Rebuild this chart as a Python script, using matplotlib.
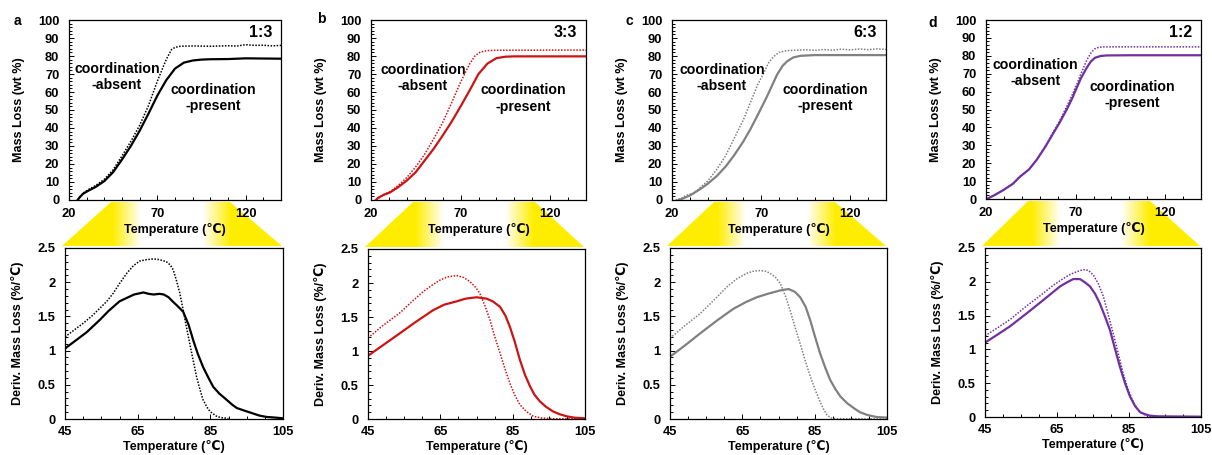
import numpy as np
import matplotlib
matplotlib.use('Agg')
import matplotlib.pyplot as plt
from matplotlib.patches import Polygon
from matplotlib.ticker import MultipleLocator, FuncFormatter

plt.rcParams['font.family'] = ['Liberation Sans', 'DejaVu Sans']
plt.rcParams['font.weight'] = 'bold'
plt.rcParams['axes.labelweight'] = 'bold'

W, H = 1212, 455

# ---------------- TGA mass loss (wt %) ----------------
a_tga_pres_T = [24.9, 26, 28, 31, 35, 40, 45, 50, 55, 60, 65, 70, 75, 80, 85, 90, 95, 100, 110, 120, 130, 140]
a_tga_pres = [0, 1.5, 3.5, 5.2, 7.2, 10.5, 15.5, 22.5, 30, 38.5, 48, 58, 66.5, 73, 76.3, 77.5, 78, 78.2, 78.3, 78.7, 78.6, 78.5]
a_tga_abs_T = [24.9, 28, 31, 35, 40, 45, 50, 55, 60, 65, 70, 75, 78, 80, 83, 90, 100, 110, 115, 120, 125, 130, 135, 140]
a_tga_abs = [0, 3.8, 5.8, 8, 11.5, 16.8, 24.5, 32.5, 41.5, 52.5, 66, 78, 83.5, 84.8, 85.4, 85.6, 85.4, 85.7, 85.5, 86.3, 85.9, 86.0, 85.6, 85.9]

b_tga_pres_T = [22.8, 24, 27, 30.6, 35, 40, 45, 50, 55, 60, 65, 70, 75, 80, 85, 90, 95, 100, 120, 140]
b_tga_pres = [0, 1.2, 2.8, 4.2, 7, 10.8, 15.5, 22, 28.5, 35.8, 43.5, 52, 60.8, 70, 75.8, 78.8, 79.6, 79.8, 79.8, 79.8]
b_tga_abs_T = [22.8, 27, 31, 36, 40, 45, 50, 55, 60, 65, 70, 75, 78, 81, 85, 90, 140]
b_tga_abs = [0, 3, 4.8, 8.8, 12.5, 18.5, 25.5, 34, 43, 54, 65.5, 75.5, 80, 82.2, 83, 83.2, 83.3]

c_tga_pres_T = [23.7, 26, 30, 35.9, 40, 45.2, 50, 54.6, 60, 63.9, 70, 73.3, 78.9, 82, 84.5, 88, 92, 100, 140]
c_tga_pres = [0, 0.8, 2.5, 6.1, 9, 13.4, 18.5, 24.5, 32.5, 39.2, 51, 57.6, 69.6, 74.5, 77, 79.2, 80.1, 80.5, 80.5]
c_tga_abs_T = [22, 25, 28, 30, 32, 35.9, 40, 45.2, 50, 54.6, 60, 63.9, 68, 71.4, 74, 77, 80, 84.5, 90,
               95, 100, 105, 110, 115, 120, 125, 130, 135, 140]
c_tga_abs = [0, 0.8, 2.6, 3.2, 3.5, 7, 10.5, 17.1, 24.5, 33.7, 44.5, 54, 64, 70.5, 76, 79.7, 82, 83, 83.2,
             83.5, 83.1, 83.6, 83.2, 83.8, 83.4, 83.9, 83.5, 84.0, 83.6]

d_tga_pres_T = [20.4, 25, 29.7, 35, 39, 44, 48.3, 53, 57.6, 61, 65, 68, 70.6, 73, 76.2, 78.5, 80.8, 84, 87.3, 100, 140]
d_tga_pres = [0, 2.3, 5, 8.5, 12.5, 16.5, 21.9, 29, 36.8, 42.5, 49.9, 56, 62, 67.5, 73.3, 76.8, 78.9, 79.9, 80.2, 80.3, 80.3]
d_tga_abs_T = [20.4, 25, 29.7, 35, 39, 44, 48.3, 53, 57.6, 61, 65, 68, 70.6, 73, 76.2, 78.5, 80.5, 83, 86, 140]
d_tga_abs = [0, 2.3, 5, 8.5, 12.5, 16.5, 22, 29.3, 37.5, 43.5, 51.5, 58, 63.9, 70, 77.5, 81.5, 83.8, 84.8, 85, 85]

# ---------------- DTG, derivative mass loss (%/°C) ----------------
a_dtg_pres_T = [45, 48, 51, 54.6, 57, 60, 62, 64, 66.6, 68, 69.4, 71, 72.2, 73.5, 74.8, 76, 77.5, 79, 80.3,
                81.5, 83, 84.5, 85.8, 87.5, 89.5, 91, 92.3, 94.5, 96.8, 98.5, 100.5, 103, 105]
a_dtg_pres = [1.03, 1.15, 1.27, 1.45, 1.58, 1.72, 1.77, 1.82, 1.85, 1.83, 1.82, 1.83, 1.82, 1.78, 1.71, 1.65,
              1.57, 1.38, 1.15, 0.96, 0.76, 0.6, 0.47, 0.37, 0.28, 0.21, 0.16, 0.12, 0.08, 0.05, 0.03, 0.02, 0.01]
a_dtg_abs_T = [45, 47.5, 50, 52.5, 54.6, 56.5, 58.3, 60, 62, 63.8, 65.6, 67.5, 69.4, 71, 72.9, 74, 74.8, 75.7,
               76.6, 77.5, 78.4, 79.8, 81.2, 82.2, 83, 84, 84.9, 86.7, 88, 89.5, 90]
a_dtg_abs = [1.2, 1.3, 1.4, 1.51, 1.62, 1.72, 1.84, 1.98, 2.13, 2.24, 2.31, 2.33, 2.34, 2.33, 2.3, 2.25, 2.18,
             2.02, 1.84, 1.6, 1.35, 0.98, 0.62, 0.42, 0.28, 0.18, 0.11, 0.04, 0.02, 0.01, 0.005]

b_dtg_pres_T = [45, 49, 53.8, 58, 63, 66, 69.5, 72, 75, 77.8, 79.5, 81.5, 83, 84.2, 85.5, 87, 88.4, 89.8, 91,
                92.5, 94.2, 96.2, 98, 99.9, 102, 105]
b_dtg_pres = [0.93, 1.08, 1.26, 1.42, 1.6, 1.68, 1.73, 1.77, 1.79, 1.77, 1.73, 1.65, 1.52, 1.36, 1.15, 0.87,
              0.65, 0.48, 0.36, 0.26, 0.18, 0.11, 0.07, 0.04, 0.02, 0.01]
b_dtg_abs_T = [45, 49, 53.8, 57, 60.2, 62.5, 64.8, 67, 69.5, 71.5, 73.2, 74.7, 75.9, 77.3, 78.7, 80, 81.5,
               82.8, 84.2, 85.5, 87, 88.8, 90.7, 93, 96, 105]
b_dtg_abs = [1.19, 1.37, 1.56, 1.72, 1.87, 1.96, 2.04, 2.09, 2.11, 2.08, 2.02, 1.94, 1.85, 1.67, 1.46, 1.22,
             0.97, 0.75, 0.53, 0.36, 0.21, 0.11, 0.04, 0.015, 0.005, 0]

c_dtg_pres_T = [45, 49, 53.3, 58, 62.5, 66, 69, 72, 75.5, 77.8, 79.5, 81, 82.5, 83.8, 85, 86.5, 88, 89.3, 90.7,
                92.1, 94, 95.8, 97.5, 99.5, 102, 105]
c_dtg_pres = [0.91, 1.07, 1.25, 1.44, 1.61, 1.71, 1.78, 1.83, 1.88, 1.9, 1.86, 1.78, 1.64, 1.44, 1.22, 0.96,
              0.74, 0.57, 0.44, 0.33, 0.23, 0.16, 0.1, 0.06, 0.03, 0.02]
c_dtg_abs_T = [45, 49, 53.3, 57, 60.7, 63.5, 66.2, 68, 69.9, 71.5, 72.7, 74.2, 75.5, 76.9, 78.2, 79.6, 81,
               82.4, 83.8, 85.2, 86.5, 87.5, 88.4, 89.5, 91, 105]
c_dtg_abs = [1.18, 1.36, 1.54, 1.73, 1.93, 2.05, 2.13, 2.16, 2.17, 2.16, 2.13, 2.07, 1.98, 1.8, 1.59, 1.34,
             1.1, 0.85, 0.62, 0.42, 0.25, 0.14, 0.06, 0.015, 0.005, 0]

d_dtg_pres_T = [45, 48.5, 51.9, 56.5, 61.2, 63.5, 65.8, 67.7, 69.5, 71.4, 72.8, 74.2, 75.6, 76.9, 78.3, 79.7,
                81.1, 82.5, 83.9, 85.3, 86.7, 88.1, 89.5, 90.8, 93, 105]
d_dtg_pres = [1.1, 1.22, 1.34, 1.53, 1.73, 1.83, 1.93, 1.99, 2.04, 2.04, 1.99, 1.93, 1.82, 1.68, 1.49, 1.29,
              1.01, 0.74, 0.5, 0.3, 0.16, 0.07, 0.04, 0.02, 0.01, 0.005]
d_dtg_abs_T = [45, 48.5, 51.9, 56.5, 61.2, 64, 66.8, 68.7, 70.5, 72.3, 73.7, 75.1, 76.5, 77.9, 79.2, 80.6,
               82, 83.4, 84.8, 86.2, 87.6, 89, 90.5, 93, 105]
d_dtg_abs = [1.2, 1.32, 1.44, 1.64, 1.83, 1.95, 2.05, 2.11, 2.15, 2.18, 2.17, 2.1, 1.97, 1.78, 1.52, 1.24,
             0.94, 0.64, 0.4, 0.22, 0.1, 0.04, 0.015, 0.005, 0]

letters = ['a', 'b', 'c', 'd']
ratios = ['1:3', '3:3', '6:3', '1:2']
colors = ['#000000', '#CC1414', '#808080', '#7030A0']
tga_xticks = [20, 70, 120]
dtg_xticks = [45, 65, 85, 105]

tga = [
    (a_tga_pres_T, a_tga_pres, a_tga_abs_T, a_tga_abs),
    (b_tga_pres_T, b_tga_pres, b_tga_abs_T, b_tga_abs),
    (c_tga_pres_T, c_tga_pres, c_tga_abs_T, c_tga_abs),
    (d_tga_pres_T, d_tga_pres, d_tga_abs_T, d_tga_abs),
]
dtg = [
    (a_dtg_pres_T, a_dtg_pres, a_dtg_abs_T, a_dtg_abs),
    (b_dtg_pres_T, b_dtg_pres, b_dtg_abs_T, b_dtg_abs),
    (c_dtg_pres_T, c_dtg_pres, c_dtg_abs_T, c_dtg_abs),
    (d_dtg_pres_T, d_dtg_pres, d_dtg_abs_T, d_dtg_abs),
]

# axes boxes in pixels: left, top, right, bottom
top_boxes = [(69, 20, 281, 200), (371, 20, 586, 200), (672, 20, 886, 200), (986, 20, 1201, 199)]
bot_boxes = [(65, 248, 283, 419), (368, 249, 585, 419), (670, 248, 887, 419), (985, 248, 1201, 417)]
letter_xy = [(17, 21), (321, 19), (629, 21), (933, 23)]
# label positions in data coords (x, y) for absent / present text
absent_xy = [(47.2, 68.3), (49, 68), (48, 68), (47.4, 70.2)]
present_xy = [(101.5, 56.7), (104.9, 56.4), (105.9, 56.5), (101.4, 58.3)]

fig = plt.figure(figsize=(W / 100, H / 100), dpi=100)


def px_axes(box, **kw):
    l, t, r, b = box
    return fig.add_axes([l / W, 1 - b / H, (r - l) / W, (b - t) / H], **kw)


fmt = FuncFormatter(lambda v, p: '%g' % v)

# yellow zoom trapezoids behind everything
bg = fig.add_axes([0, 0, 1, 1], zorder=-5)
bg.axis('off')
yellow = np.array([1.0, 0.93, 0.0])
for tb, bb in zip(top_boxes, bot_boxes):
    y0, y1 = tb[3] + 2, bb[1] - 2
    xl, xr = bb[0] - 3, bb[2] - 1
    poly = Polygon([(tb[0] + 42, y0), (tb[2] - 51, y0), (xr, y1), (xl, y1)],
                   closed=True, facecolor='none', edgecolor='none', transform=bg.transData)
    bg.add_patch(poly)
    xs = np.linspace(xl, xr, 400)
    cx, half = (xl + xr) / 2, (xr - xl) / 2
    a = np.clip((np.abs(xs - cx) / half - 0.28) / 0.26, 0, 1)
    img = (1 - a)[:, None] * np.ones(3) + a[:, None] * yellow
    im = bg.imshow(img[None, :, :], extent=(xl, xr, y1, y0), aspect='auto', interpolation='bilinear')
    im.set_clip_path(poly)
bg.set_xlim(0, W)
bg.set_ylim(H, 0)


def style(ax):
    for s in ax.spines.values():
        s.set_linewidth(0.9)
    ax.tick_params(which='both', direction='in', top=False, right=False, width=0.7)
    ax.tick_params(which='major', length=3.5, labelsize=9.3)
    ax.tick_params(which='minor', length=2)


for i in range(4):
    col = colors[i]
    # TGA panel
    ax = px_axes(top_boxes[i])
    tp, yp, ta, ya = tga[i]
    ax.plot(ta, ya, color=col, lw=1.1, ls=(0, (1, 1)))
    ax.plot(tp, yp, color=col, lw=1.6)
    ax.set_xlim(20, 140)
    ax.set_ylim(0, 100)
    ax.set_xticks(tga_xticks)
    ax.xaxis.set_minor_locator(MultipleLocator(10))
    ax.yaxis.set_major_locator(MultipleLocator(10))
    ax.yaxis.set_minor_locator(MultipleLocator(2))
    style(ax)
    ax.tick_params(axis='y', which='both', pad=7)
    ax.tick_params(axis='x', which='both', pad=5.5)
    ax.set_xlabel('Temperature (℃)', fontsize=9, labelpad=2.5)
    ax.set_ylabel('Mass Loss (wt %)', fontsize=9)
    ax.yaxis.set_label_coords(-44 / (top_boxes[i][2] - top_boxes[i][0]), 0.5)
    ax.text(*absent_xy[i], 'coordination\n-absent', ha='center', va='center',
            fontsize=10.2, linespacing=1.2)
    ax.text(*present_xy[i], 'coordination\n-present', ha='center', va='center',
            fontsize=10.2, linespacing=1.2)
    ax.text(135, 93, ratios[i], ha='right', va='center', fontsize=11.5)
    fig.text(letter_xy[i][0] / W, 1 - letter_xy[i][1] / H, letters[i],
             ha='center', va='center', fontsize=10)

    # DTG panel
    ax2 = px_axes(bot_boxes[i])
    tp, yp, ta, ya = dtg[i]
    ax2.plot(ta, ya, color=col, lw=1.1, ls=(0, (1, 1)))
    ax2.plot(tp, yp, color=col, lw=1.6)
    ax2.set_xlim(45, 105)
    ax2.set_ylim(0, 2.5)
    ax2.set_xticks(dtg_xticks)
    ax2.xaxis.set_minor_locator(MultipleLocator(5))
    ax2.yaxis.set_major_locator(MultipleLocator(0.5))
    ax2.yaxis.set_minor_locator(MultipleLocator(0.1))
    ax2.yaxis.set_major_formatter(fmt)
    style(ax2)
    ax2.tick_params(axis='y', which='both', pad=7)
    ax2.tick_params(axis='x', which='both', pad=5)
    ax2.set_xlabel('Temperature (℃)', fontsize=9, labelpad=1.5)
    ax2.set_ylabel('Deriv. Mass Loss (%/℃)', fontsize=9)
    ax2.yaxis.set_label_coords(-41 / (bot_boxes[i][2] - bot_boxes[i][0]), 0.5)

fig.savefig('out.png', dpi=100, facecolor='white')
